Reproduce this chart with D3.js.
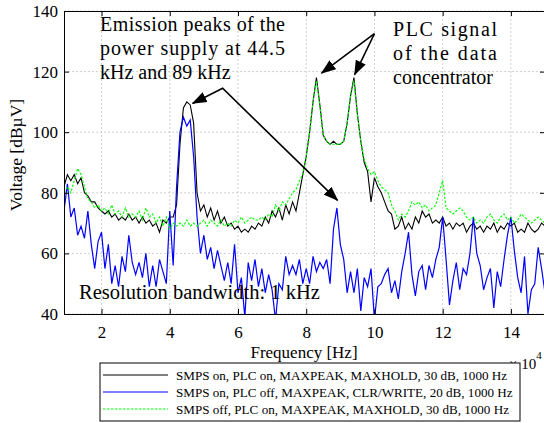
<!DOCTYPE html>
<html>
<head>
<meta charset="utf-8">
<script src="https://cdnjs.cloudflare.com/ajax/libs/d3/7.8.5/d3.min.js"></script>
<style>
body { margin: 0; background: #fff; }
svg, svg text { font-family: "Times New Roman", Tinos, serif; }
.grid line { stroke: #c4c4c4; stroke-dasharray: 2,2; stroke-width: 0.8; }
.axis path, .axis line { stroke: #000; }
.axis text { font-size: 17px; fill: #000; font-family: "Times New Roman", Tinos, serif; }
</style>
</head>
<body>
<svg id="plot" width="544" height="423"></svg>
<script>
// frequency grid, in units of 10^4 Hz
var freqStart = 0.9,
	freqStep = 0.1;

// SMPS on, PLC on, MAXPEAK, MAXHOLD (dBuV)
var smpsOnPlcOn = [
	82,86,84,86,83,85,80,79,77,77,
	75,74,73,74,72,73,71,72,71,73,
	71,72,70,72,70,71,69,70,67,71,
	70,72,72,76,96,108,110,109,103,80,
	74,76,72,75,71,74,70,72,69,70,
	68,69,67,68,67,69,68,70,69,72,
	70,74,72,75,71,76,73,77,74,80,
	86,92,100,110,118,109,99,97,96,97,
	96,96,97,103,112,118,106,97,90,87,
	77,85,82,80,77,74,73,68,69,72,
	68,70,68,72,70,74,72,73,70,71,
	70,72,69,70,68,70,69,70,67,69,
	70,68,69,67,69,68,70,67,69,68,
	70,69,70,67,68,67,70,68,67,68,
	70,69
];
// SMPS on, PLC off, MAXPEAK, CLR/WRITE
var smpsOnPlcOff = [
	74,83,72,75,66,69,65,74,63,55,
	64,67,55,63,50,56,49,59,54,66,
	57,53,57,52,60,49,56,49,58,54,
	50,74,56,82,100,105,102,104,92,72,
	60,66,58,62,55,61,56,51,57,50,
	63,47,52,39,57,51,58,49,55,47,
	53,48,38,50,48,59,53,56,53,58,
	50,55,50,59,54,57,55,58,50,68,
	75,63,58,47,54,47,55,41,52,49,
	55,38,49,50,53,55,47,51,45,54,
	60,67,53,46,54,56,48,56,52,58,
	62,72,58,43,51,57,48,55,53,60,
	72,60,56,48,52,55,42,54,49,58,
	66,72,61,52,47,59,40,48,50,62,
	55,47
];
// SMPS off, PLC on, MAXPEAK, MAXHOLD
var smpsOffPlcOn = [
	80,82,80,84,88,86,82,78,77,75,
	76,74,75,73,76,73,74,72,75,72,
	73,72,74,71,75,72,73,70,72,69,
	72,68,70,69,70,69,71,69,70,69,
	70,71,69,71,70,69,71,69,70,69,
	71,70,72,70,71,72,71,71,72,71,
	73,72,76,74,77,76,78,80,81,84,
	86,92,100,110,117,109,99,97,96,96,
	96,96,97,103,112,117,106,97,91,88,
	86,87,84,82,81,80,76,74,71,73,
	72,74,77,76,77,75,76,74,75,76,
	80,84,75,74,73,74,75,74,72,71,
	72,70,71,70,72,73,71,70,72,73,
	71,72,70,71,73,72,71,70,71,72,
	71,70
];

var xTicks = [2, 4, 6, 8, 10, 12, 14],
	yTicks = [40, 60, 80, 100, 120, 140];
var seriesNames = [
	"SMPS on, PLC on, MAXPEAK, MAXHOLD, 30 dB, 1000 Hz",
	"SMPS on, PLC off, MAXPEAK, CLR/WRITE, 20 dB, 1000 Hz",
	"SMPS off, PLC on, MAXPEAK, MAXHOLD, 30 dB, 1000 Hz"
];
var noteSmps = ["Emission peaks of the", "power supply at 44.5", "kHz and 89 kHz"],
	notePlc = ["PLC signal", "of the data", "concentrator"],
	noteRbw = "Resolution bandwidth: 1 kHz";
// arrow points [freq, dBuV]
var arrowSmps = [[4.67, 109.5], [5.55, 114.5], [8.92, 77.5]],
	arrowPlcFrom = [10.0, 132.5],
	arrowPlcTo = [[8.45, 119.5], [9.42, 119]];

var svg = d3.select("#plot"),
	margin = {top: 11, right: -1, bottom: 109, left: 64},
	width = 544 - margin.left - margin.right,
	height = 423 - margin.top - margin.bottom,
	g = svg.append("g").attr("transform", "translate(" + margin.left + "," + margin.top + ")");

var x = d3.scaleLinear()
	.domain([0.9, 15])
	.range([0, width]);

var y = d3.scaleLinear()
	.domain([40, 140])
	.range([height, 0]);

g.append("defs").append("clipPath")
	.attr("id", "clip")
	.append("rect")
	.attr("width", width)
	.attr("height", height);

svg.select("defs").append("marker")
	.attr("id", "head")
	.attr("viewBox", "0 -6 15 12")
	.attr("refX", 14)
	.attr("refY", 0)
	.attr("markerUnits", "userSpaceOnUse")
	.attr("markerWidth", 15)
	.attr("markerHeight", 12)
	.attr("orient", "auto-start-reverse")
	.append("path")
	.attr("d", "M0,-5.5L15,0L0,5.5Z")
	.attr("fill", "#000");

// grid
g.append("g")
	.attr("class", "grid")
	.selectAll("line.gx")
	.data(xTicks)
	.enter().append("line")
	.attr("x1", d => x(d)).attr("x2", d => x(d))
	.attr("y1", 0).attr("y2", height);
g.append("g")
	.attr("class", "grid")
	.selectAll("line.gy")
	.data(yTicks)
	.enter().append("line")
	.attr("x1", 0).attr("x2", width)
	.attr("y1", d => y(d)).attr("y2", d => y(d));

// curves
var line = d3.line()
	.x(function(d, i) { return x(freqStart + i * freqStep); })
	.y(function(d) { return y(d); });

var plotG = g.append("g").attr("clip-path", "url(#clip)");
plotG.append("path")
	.datum(smpsOnPlcOn)
	.attr("fill", "none")
	.attr("stroke", "#000")
	.attr("stroke-width", 1.1)
	.attr("d", line);
plotG.append("path")
	.datum(smpsOnPlcOff)
	.attr("fill", "none")
	.attr("stroke", "#0000ff")
	.attr("stroke-width", 1.2)
	.attr("d", line);
plotG.append("path")
	.datum(smpsOffPlcOn)
	.attr("fill", "none")
	.attr("stroke", "#00ff00")
	.attr("stroke-width", 1.1)
	.attr("stroke-dasharray", "2.5,1.5")
	.attr("d", line);

// axes, ticks inward on all four sides
g.append("g")
	.attr("class", "axis axis--x")
	.attr("transform", "translate(0," + height + ")")
	.call(d3.axisBottom(x).tickValues(xTicks).tickSizeInner(-5).tickSizeOuter(0).tickPadding(12));
g.append("g")
	.attr("class", "axis axis--x2")
	.call(d3.axisTop(x).tickValues(xTicks).tickSizeInner(-5).tickSizeOuter(0).tickFormat(""));
g.append("g")
	.attr("class", "axis axis--y")
	.call(d3.axisLeft(y).tickValues(yTicks).tickSizeInner(-5).tickSizeOuter(0).tickPadding(6));
g.append("g")
	.attr("class", "axis axis--y2")
	.attr("transform", "translate(" + width + ",0)")
	.call(d3.axisRight(y).tickValues(yTicks).tickSizeInner(-5).tickSizeOuter(0).tickFormat(""));
g.selectAll(".axis").attr("font-family", null).attr("font-size", null);
g.selectAll(".axis--x text").attr("dy", "0.71em");

// axis labels
svg.append("text")
	.attr("x", 304)
	.attr("y", 358)
	.attr("text-anchor", "middle")
	.style("font-size", "17px")
	.text("Frequency [Hz]");
svg.append("text")
	.attr("transform", "translate(22,155) rotate(-90)")
	.attr("text-anchor", "middle")
	.style("font-size", "17.5px")
	.text("Voltage [dB\u00b5V]");
var expo = svg.append("text")
	.attr("x", 509)
	.attr("y", 369)
	.style("font-size", "15px");
expo.append("tspan").text("\u00d7 10");
expo.append("tspan").attr("dy", -10).style("font-size", "11px").text("4");

// annotations
var noteG = svg.append("g").style("font-size", "20px");
noteG.selectAll("text.smps")
	.data(noteSmps)
	.enter().append("text")
	.attr("x", 100)
	.attr("y", (d, i) => 31 + i * 24)
	.attr("textLength", (d, i) => i < 2 ? 185 : null)
	.attr("lengthAdjust", "spacing")
	.text(d => d);
noteG.selectAll("text.plc")
	.data(notePlc)
	.enter().append("text")
	.attr("x", 393)
	.attr("y", (d, i) => 36 + i * 24)
	.attr("textLength", (d, i) => i < 2 ? 104 : null)
	.attr("lengthAdjust", "spacing")
	.text(d => d);
svg.append("text")
	.attr("x", 79)
	.attr("y", 299)
	.style("font-size", "20.5px")
	.text(noteRbw);

var px = function(p) { return [margin.left + x(p[0]), margin.top + y(p[1])]; };
svg.append("path")
	.attr("d", d3.line()(arrowSmps.map(px)))
	.attr("fill", "none")
	.attr("stroke", "#000")
	.attr("stroke-width", 1.6)
	.attr("marker-start", "url(#head)")
	.attr("marker-end", "url(#head)");
arrowPlcTo.forEach(function(p) {
	svg.append("path")
		.attr("d", d3.line()([px(arrowPlcFrom), px(p)]))
		.attr("fill", "none")
		.attr("stroke", "#000")
		.attr("stroke-width", 1.6)
		.attr("marker-end", "url(#head)");
});

// legend
var leg = svg.append("g").attr("transform", "translate(100,363)");
leg.append("rect")
	.attr("width", 420)
	.attr("height", 58)
	.attr("fill", "#fff")
	.attr("stroke", "#000")
	.attr("stroke-width", 1);
var legColors = ["#000", "#0000ff", "#00ff00"],
	legDash = [null, null, "2.5,1.5"];
var rows = leg.selectAll("g.row")
	.data(seriesNames)
	.enter().append("g")
	.attr("transform", (d, i) => "translate(0," + (12 + i * 17) + ")");
rows.append("line")
	.attr("x1", 3).attr("x2", 68)
	.attr("stroke", (d, i) => legColors[i])
	.attr("stroke-width", 1.1)
	.attr("stroke-dasharray", (d, i) => legDash[i]);
rows.append("text")
	.attr("x", 76)
	.attr("dy", "0.35em")
	.style("font-size", "13.1px")
	.text(d => d);
</script>
</body>
</html>
